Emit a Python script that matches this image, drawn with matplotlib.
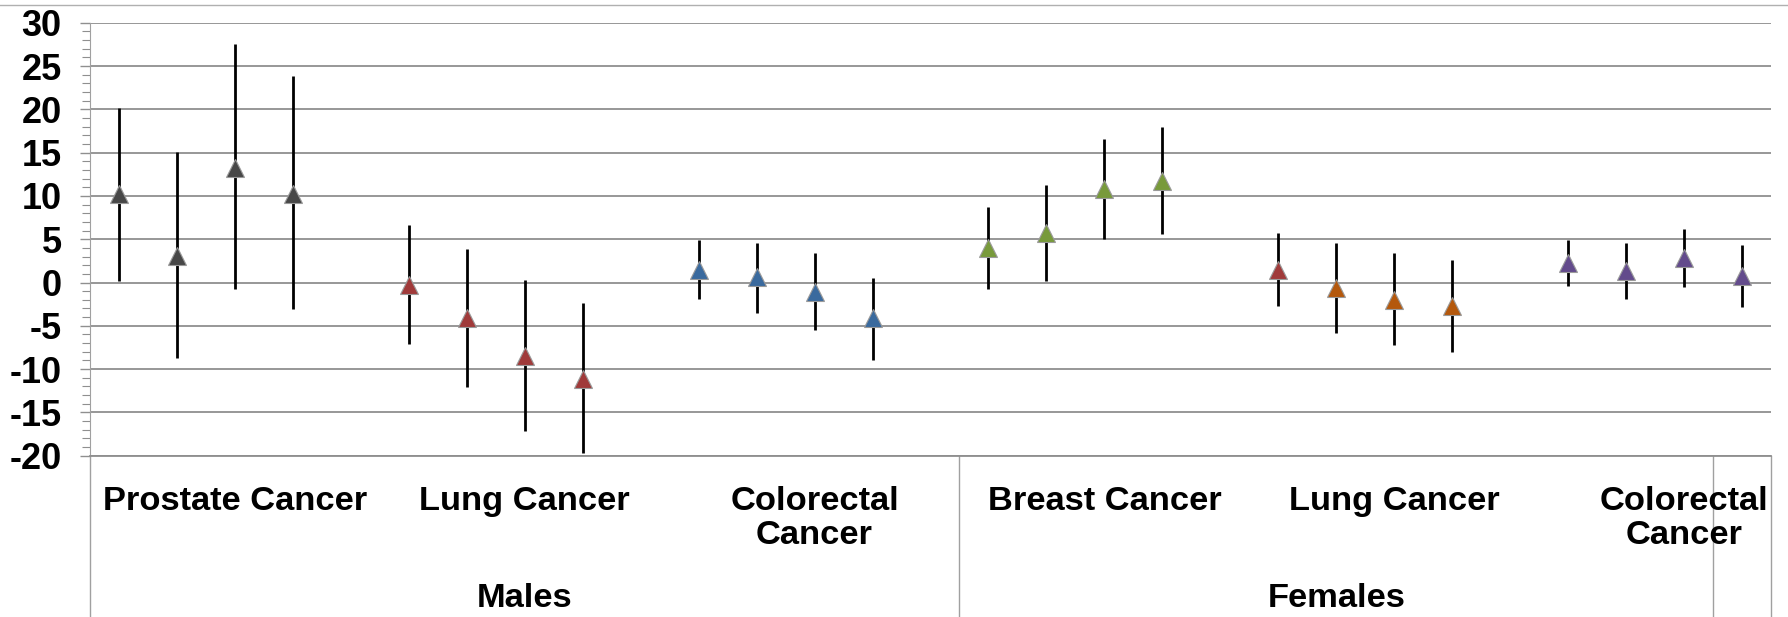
import matplotlib.pyplot as plt
import numpy as np
from matplotlib.lines import Line2D
from matplotlib.ticker import MultipleLocator

plt.rcParams['font.family'] = ['Liberation Sans', 'DejaVu Sans']
plt.rcParams['axes.unicode_minus'] = False

# categories
sexes = ['Males', 'Females']
cancers = ['Prostate Cancer', 'Lung Cancer', 'Colorectal\nCancer',
           'Breast Cancer', 'Lung Cancer', 'Colorectal\nCancer']

# point estimates and interval bounds, 4 per cancer group
est = [
    [10.2, 3.05, 13.2, 10.2],      # prostate, males
    [-0.3, -4.1, -8.5, -11.1],     # lung, males
    [1.45, 0.6, -1.1, -4.1],       # colorectal, males
    [4.0, 5.75, 10.75, 11.75],     # breast, females
    [1.5, -0.6, -2.05, -2.7],      # lung, females
    [2.2, 1.35, 2.85, 0.75],       # colorectal, females
]
lower = [
    [0.2, -8.75, -0.8, -3.1],
    [-7.1, -12.1, -17.1, -19.7],
    [-1.95, -3.5, -5.5, -8.9],
    [-0.8, 0.2, 5.0, 5.55],
    [-2.7, -5.8, -7.2, -8.05],
    [-0.4, -1.9, -0.55, -2.8],
]
upper = [
    [20.1, 15.1, 27.5, 23.8],
    [6.6, 3.9, 0.3, -2.4],
    [4.9, 4.6, 3.35, 0.5],
    [8.75, 11.3, 16.6, 17.9],
    [5.75, 4.6, 3.35, 2.65],
    [4.9, 4.6, 6.2, 4.3],
]
colors = [
    ['#474747'] * 4,
    ['#A03A3A'] * 4,
    ['#3A6A9E'] * 4,
    ['#789A3B'] * 4,
    ['#A03A3A', '#B4580C', '#B4580C', '#B4580C'],
    ['#634B8C'] * 4,
]

fig = plt.figure(figsize=(17.88, 6.17), dpi=100)
ax = fig.add_axes([90 / 1788, 1 - 455.7 / 617, (1771 - 90) / 1788, 433 / 617])

grid_c = '#8f8f8f'
for g in range(len(est)):
    for i in range(4):
        x = 5 * g + i + 0.5
        y = est[g][i]
        ax.errorbar([x], [y], yerr=[[y - lower[g][i]], [upper[g][i] - y]],
                    fmt='none', ecolor='black', elinewidth=2, capsize=0, zorder=3)
        ax.plot([x], [y], marker='^', markersize=13, color=colors[g][i],
                markeredgecolor='#9a9a9a', markeredgewidth=0.8, linestyle='none', zorder=4)

ax.set_xlim(0, 29)
ax.set_ylim(-20, 30)
ax.yaxis.set_major_locator(MultipleLocator(5))
ax.yaxis.set_minor_locator(MultipleLocator(1))
ax.grid(axis='y', which='major', color=grid_c, linewidth=1.3)
ax.set_axisbelow(True)
ax.tick_params(axis='y', which='major', direction='out', length=7.5, width=1,
               color=grid_c, pad=13, labelsize=26)
ax.tick_params(axis='y', which='minor', direction='out', length=5.5, width=0.8, color=grid_c)
for lab in ax.get_yticklabels():
    lab.set_fontweight('bold')
ax.set_xticks([])
for s in ['top', 'right']:
    ax.spines[s].set_visible(False)
ax.spines['left'].set_color('#a0a0a0')
ax.spines['bottom'].set_color(grid_c)
ax.spines['bottom'].set_linewidth(1.3)

# category axis separators below the plot
trans = ax.get_xaxis_transform()
depth = -161.3 / 433
for xs in [0, 15, 28, 29]:
    ax.add_line(Line2D([xs, xs], [0, depth], transform=trans, color='#a0a0a0',
                       linewidth=1, clip_on=False))

for g, name in enumerate(cancers):
    ax.text(5 * g + 2.5, -(486 - 455.7) / 433, name, transform=trans, ha='center',
            va='top', fontsize=24.8, fontweight='bold', linespacing=1.12)

ax.text(7.5, -(607 - 455.7) / 433, sexes[0], transform=trans, ha='center',
        va='baseline', fontsize=24.8, fontweight='bold')
ax.text(21.5, -(607 - 455.7) / 433, sexes[1], transform=trans, ha='center',
        va='baseline', fontsize=24.8, fontweight='bold')

# thin border line at the top of the picture
fig.add_artist(Line2D([0, 1], [1 - 4.5 / 617, 1 - 4.5 / 617], transform=fig.transFigure,
                      color='#b0b0b0', linewidth=1))

fig.savefig('out.png', dpi=100)
